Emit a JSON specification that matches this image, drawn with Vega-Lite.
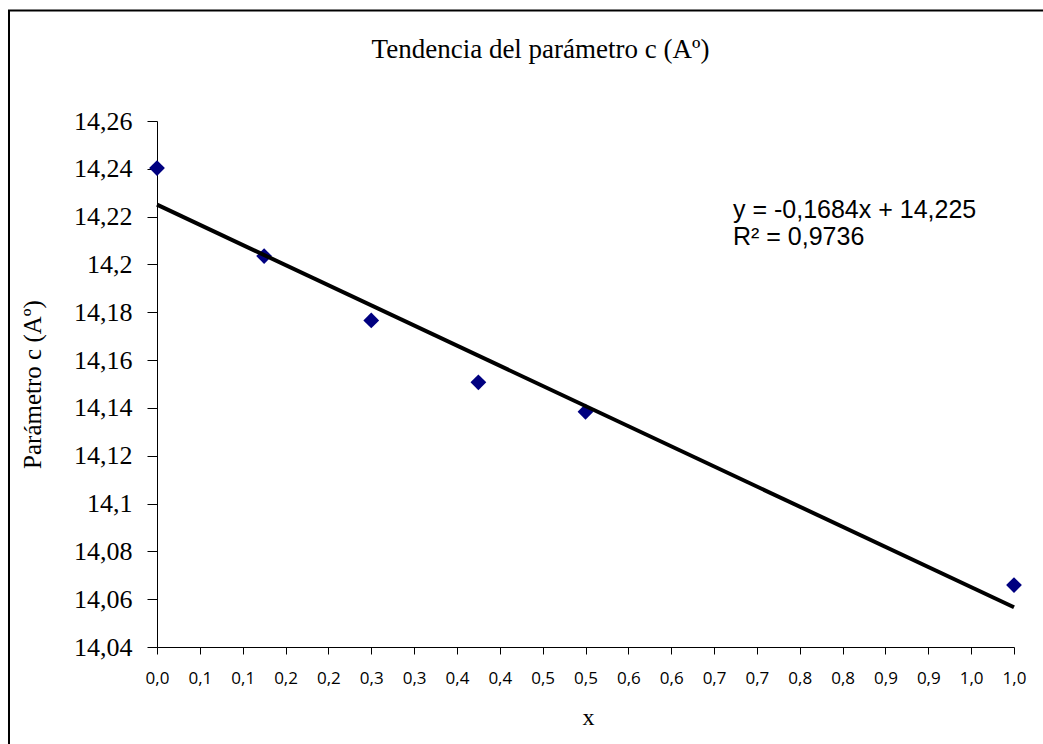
{
  "$schema": "https://vega.github.io/schema/vega-lite/v6.json",
  "width": 857,
  "height": 526,
  "autosize": "none",
  "padding": {"left": 157, "top": 121, "right": 29, "bottom": 97},
  "background": "white",
  "datasets": {
    "points": [
      {"x": 0, "c": 14.2403},
      {"x": 0.125, "c": 14.2035},
      {"x": 0.25, "c": 14.1766},
      {"x": 0.375, "c": 14.1507},
      {"x": 0.5, "c": 14.1384},
      {"x": 1.0, "c": 14.0659}
    ],
    "trend": [
      {"x": 0, "c": 14.225},
      {"x": 1.0, "c": 14.0566}
    ],
    "one": [{}]
  },
  "title": {
    "text": "Tendencia del parámetro c (Aº)",
    "font": "Liberation Serif",
    "fontSize": 27,
    "fontWeight": "normal",
    "color": "black",
    "anchor": "middle",
    "baseline": "alphabetic",
    "dx": -45,
    "offset": 0,
    "dy": 75
  },
  "config": {
    "view": {"stroke": null},
    "axisX": {
      "domainColor": "black",
      "domainWidth": 1,
      "tickColor": "black",
      "tickSize": 7,
      "grid": false,
      "labelColor": "black",
      "labelPadding": 16,
      "labelOverlap": false,
      "labelFlush": false,
      "labelBound": false,
      "titleFont": "Liberation Serif",
      "titleFontSize": 24,
      "titleFontWeight": "normal",
      "titleColor": "black",
      "titleX": 431,
      "titleY": 70,
      "titleAlign": "center",
      "titleBaseline": "middle"
    },
    "axisY": {
      "domainColor": "black",
      "domainWidth": 1,
      "tickColor": "black",
      "tickSize": 10,
      "grid": false,
      "labelColor": "black",
      "labelPadding": 15,
      "labelOverlap": false,
      "labelFlush": false,
      "labelBound": false,
      "titleFont": "Liberation Serif",
      "titleFontSize": 25,
      "titleFontWeight": "normal",
      "titleColor": "black",
      "titleAngle": -90,
      "titleX": -125,
      "titleY": 263,
      "titleAlign": "center",
      "titleBaseline": "middle"
    }
  },
  "layer": [
    {
      "data": {"name": "points"},
      "mark": {"type": "point", "shape": "diamond", "filled": true, "color": "#000080", "opacity": 1, "size": 250},
      "encoding": {
        "x": {"field": "x", "type": "quantitative", "scale": {"domain": [0, 1], "nice": false, "zero": false},
          "axis": {"title": "x", "values": [0, 0.05, 0.1, 0.15, 0.2, 0.25, 0.3, 0.35, 0.4, 0.45, 0.5, 0.55, 0.6, 0.65, 0.7, 0.75, 0.8, 0.85, 0.9, 0.95, 1.0],
            "labelFont": "Open Sans", "labelFontSize": 17,
            "labelExpr": "replace(format(round(datum.value*10+0.0001)/10, '.1f'), '.', ',')"}},
        "y": {"field": "c", "type": "quantitative", "scale": {"domain": [14.04, 14.26], "nice": false, "zero": false},
          "axis": {"title": "Parámetro c (Aº)", "values": [14.04, 14.06, 14.08, 14.1, 14.12, 14.14, 14.16, 14.18, 14.2, 14.22, 14.24, 14.26],
            "labelFont": "Liberation Serif", "labelFontSize": 26,
            "labelExpr": "replace(format(datum.value, '.2~f'), '.', ',')"}}
      }
    },
    {
      "data": {"name": "trend"},
      "mark": {"type": "line", "color": "black", "strokeWidth": 4},
      "encoding": {
        "x": {"field": "x", "type": "quantitative"},
        "y": {"field": "c", "type": "quantitative"}
      }
    },
    {
      "data": {"name": "one"},
      "mark": {"type": "rect", "fillOpacity": 0, "stroke": "black", "strokeWidth": 2, "clip": false},
      "encoding": {
        "x": {"datum": -0.1727, "type": "quantitative"},
        "x2": {"datum": 1.06},
        "y": {"datum": 14.3062, "type": "quantitative"},
        "y2": {"datum": 13.99}
      }
    },
    {
      "data": {"name": "one"},
      "mark": {"type": "text", "font": "Liberation Sans", "fontSize": 25, "align": "left", "baseline": "middle", "color": "black"},
      "encoding": {
        "x": {"datum": 0.6721, "type": "quantitative"},
        "y": {"datum": 14.2228, "type": "quantitative"},
        "text": {"value": "y = -0,1684x + 14,225"}
      }
    },
    {
      "data": {"name": "one"},
      "mark": {"type": "text", "font": "Liberation Sans", "fontSize": 25, "align": "left", "baseline": "middle", "color": "black"},
      "encoding": {
        "x": {"datum": 0.6721, "type": "quantitative"},
        "y": {"datum": 14.2115, "type": "quantitative"},
        "text": {"value": "R² = 0,9736"}
      }
    }
  ]
}
